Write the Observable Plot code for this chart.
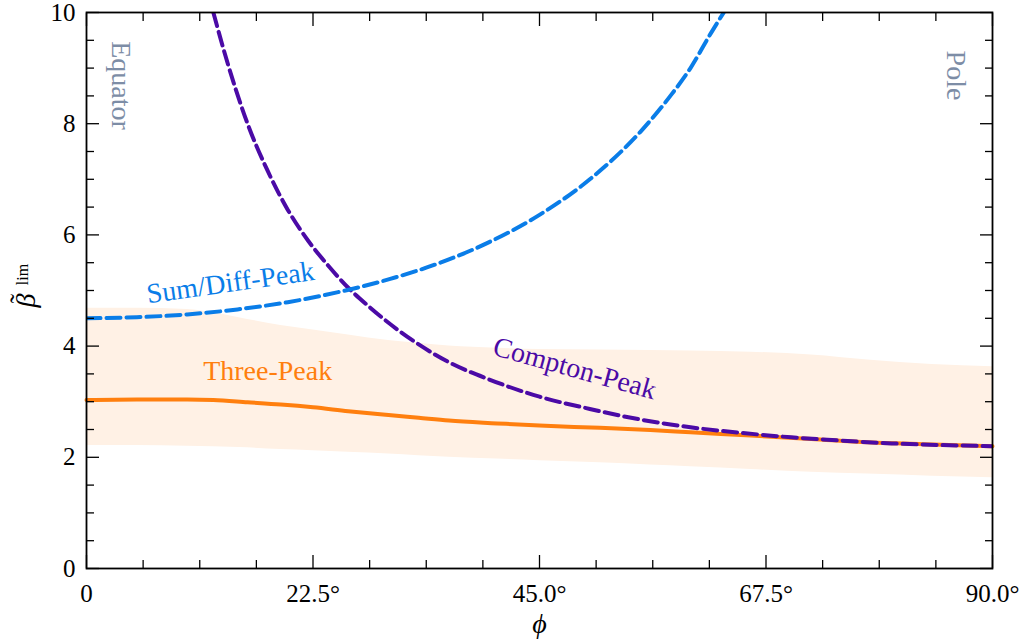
<!DOCTYPE html>
<html><head><meta charset="utf-8">
<script src="https://cdn.jsdelivr.net/npm/d3@7"></script>
<script src="https://cdn.jsdelivr.net/npm/@observablehq/plot@0.6"></script>
<style>html,body{margin:0;padding:0;background:#fff}#chart svg{display:block}#chart svg text{font-family:"Liberation Serif","DejaVu Serif",serif !important}</style>
</head><body><div id="chart"></div>
<script>
// Three-Peak (solid line + uncertainty band)
const threePhi  = [0, 5, 10, 12.6, 16, 19.3, 22.5, 26, 30, 33, 36, 40.8, 45, 51, 56, 60, 66, 72, 77.6, 84, 90];
const threeMid  = [3.03, 3.04, 3.04, 3.03, 2.99, 2.95, 2.90, 2.83, 2.76, 2.71, 2.66, 2.61, 2.57, 2.53, 2.49, 2.45, 2.39, 2.33, 2.27, 2.23, 2.20];
const threeHigh = [4.68, 4.68, 4.66, 4.60, 4.48, 4.37, 4.29, 4.20, 4.10, 4.05, 4.00, 3.96, 3.94, 3.93, 3.92, 3.91, 3.89, 3.84, 3.75, 3.67, 3.63];
const threeLow  = [2.21, 2.21, 2.20, 2.19, 2.17, 2.14, 2.12, 2.09, 2.06, 2.03, 2.00, 1.97, 1.94, 1.90, 1.86, 1.83, 1.78, 1.73, 1.70, 1.66, 1.63];
// Compton-Peak (dashed)
const comptonPhi = [12.6, 14, 16, 18, 20, 22, 24, 26, 28, 30, 33, 36, 40, 45, 50, 55, 60, 65, 70, 75, 80, 85, 90];
const comptonVal = [10.0, 9.1, 8.0, 7.15, 6.45, 5.9, 5.45, 5.05, 4.72, 4.42, 4.03, 3.71, 3.40, 3.09, 2.87, 2.68, 2.54, 2.44, 2.36, 2.30, 2.25, 2.22, 2.20];
// Sum/Diff-Peak (dashed)
const sumPhi = [0, 5, 10, 15, 20, 25, 30, 35, 40, 45, 50, 55, 58, 60, 62, 63.3];
const sumVal = [4.50, 4.52, 4.57, 4.66, 4.79, 4.97, 5.20, 5.49, 5.87, 6.36, 7.00, 7.85, 8.50, 9.00, 9.62, 10.0];
// Ticks
const xMajor = [0, 22.5, 45, 67.5, 90];
const xMinor = [5.625, 11.25, 16.875, 28.125, 33.75, 39.375, 50.625, 56.25, 61.875, 73.125, 78.75, 84.375];
const yMajor = [0, 2, 4, 6, 8, 10];
const yMinor = [0.5, 1, 1.5, 2.5, 3, 3.5, 4.5, 5, 5.5, 6.5, 7, 7.5, 8.5, 9, 9.5];
// Curve labels
const labelText  = ["Sum/Diff-Peak", "Three-Peak", "Compton-Peak"];
const labelPhi   = [14.3, 18.0, 48.5];
const labelVal   = [5.14, 3.56, 3.60];
const labelAngle = [-8, 0, 15.5];

const cOrange = "#ff7f0e", cBand = "#fff1e5", cBlue = "#0a7de8", cPurple = "#4b0aa6", cGray = "#7d8da6";
const FONT = "Liberation Serif, DejaVu Serif, serif";

const band = threePhi.map((p, i) => ({phi: p, lo: threeLow[i], hi: threeHigh[i], mid: threeMid[i]}));
const compton = comptonPhi.map((p, i) => ({phi: p, v: comptonVal[i]}));
const sumdiff = sumPhi.map((p, i) => ({phi: p, v: sumVal[i]}));
const labels = labelText.map((t, i) => ({t, phi: labelPhi[i], v: labelVal[i], a: labelAngle[i]}));
const labelColor = [cBlue, cOrange, cPurple];

const fmtX = d => d === 0 ? "0" : d.toFixed(1) + "°";
const fmtY = d => String(d);

const tickOpts = {stroke: "black", strokeWidth: 1.3, text: null};
const T = {fontFamily: FONT};

const chart = Plot.plot({
  width: 1024, height: 641,
  marginLeft: 86, marginRight: 32, marginTop: 12, marginBottom: 73,
  style: {fontFamily: FONT, fontSize: "24px", background: "#fff", color: "black"},
  x: {domain: [0, 90], label: null},
  y: {domain: [0, 10], label: null},
  marks: [
    Plot.areaY(band, {x: "phi", y1: "lo", y2: "hi", fill: cBand, curve: "monotone-x"}),
    Plot.line(band, {x: "phi", y: "mid", stroke: cOrange, strokeWidth: 4, curve: "monotone-x"}),
    Plot.line(compton, {x: "phi", y: "v", stroke: cPurple, strokeWidth: 4, strokeDasharray: "14,6", curve: "monotone-x", clip: true}),
    Plot.line(sumdiff, {x: "phi", y: "v", stroke: cBlue, strokeWidth: 4, strokeDasharray: "14,6", curve: "monotone-x", clip: true}),
    ...labels.map((d, i) => Plot.text([d], {x: "phi", y: "v", text: "t", rotate: "a", fill: labelColor[i], fontSize: 28, textAnchor: "middle", lineAnchor: "middle", ...T})),
    Plot.text(["Equator"], {frameAnchor: "top-left", dx: 34, dy: 73, rotate: 90, fill: cGray, fontSize: 28, textAnchor: "middle", lineAnchor: "middle", ...T}),
    Plot.text(["Pole"], {frameAnchor: "top-right", dx: -37, dy: 63, rotate: 90, fill: cGray, fontSize: 28, textAnchor: "middle", lineAnchor: "middle", ...T}),
    // tick labels
    Plot.axisX(xMajor, {anchor: "bottom", tickSize: 0, tickPadding: 16, tickFormat: fmtX, fontSize: 25, fill: "black", ...T}),
    Plot.axisY(yMajor, {anchor: "left", tickSize: 0, tickPadding: 11, tickFormat: fmtY, fontSize: 25, fill: "black", ...T}),
    // inward ticks on all four sides
    Plot.axisX(xMajor, {anchor: "bottom", tickSize: -13, ...tickOpts}),
    Plot.axisX(xMinor, {anchor: "bottom", tickSize: -8, ...tickOpts}),
    Plot.axisX(xMajor, {anchor: "top", tickSize: -13, ...tickOpts}),
    Plot.axisX(xMinor, {anchor: "top", tickSize: -8, ...tickOpts}),
    Plot.axisY(yMajor, {anchor: "left", tickSize: -13, ...tickOpts}),
    Plot.axisY(yMinor, {anchor: "left", tickSize: -8, ...tickOpts}),
    Plot.axisY(yMajor, {anchor: "right", tickSize: -13, ...tickOpts}),
    Plot.axisY(yMinor, {anchor: "right", tickSize: -8, ...tickOpts}),
    // axis titles
    Plot.text(["ϕ"], {frameAnchor: "bottom", dy: 56, fontSize: 28, fontStyle: "italic", textAnchor: "middle", lineAnchor: "middle", fill: "black", ...T}),
    Plot.text(["β"], {frameAnchor: "left", dx: -52, dy: 10, rotate: -90, fontSize: 28, fontStyle: "italic", textAnchor: "middle", lineAnchor: "bottom", fill: "black", ...T}),
    Plot.text(["˜"], {frameAnchor: "left", dx: -58, dy: 8, rotate: -90, fontSize: 28, textAnchor: "middle", lineAnchor: "bottom", fill: "black", ...T}),
    Plot.text(["lim"], {frameAnchor: "left", dx: -59, dy: -16, rotate: -90, fontSize: 16, textAnchor: "middle", lineAnchor: "bottom", fill: "black", ...T}),
    Plot.frame({stroke: "black", strokeWidth: 1.8})
  ]
});
document.getElementById("chart").appendChild(chart);
</script>
</body></html>
